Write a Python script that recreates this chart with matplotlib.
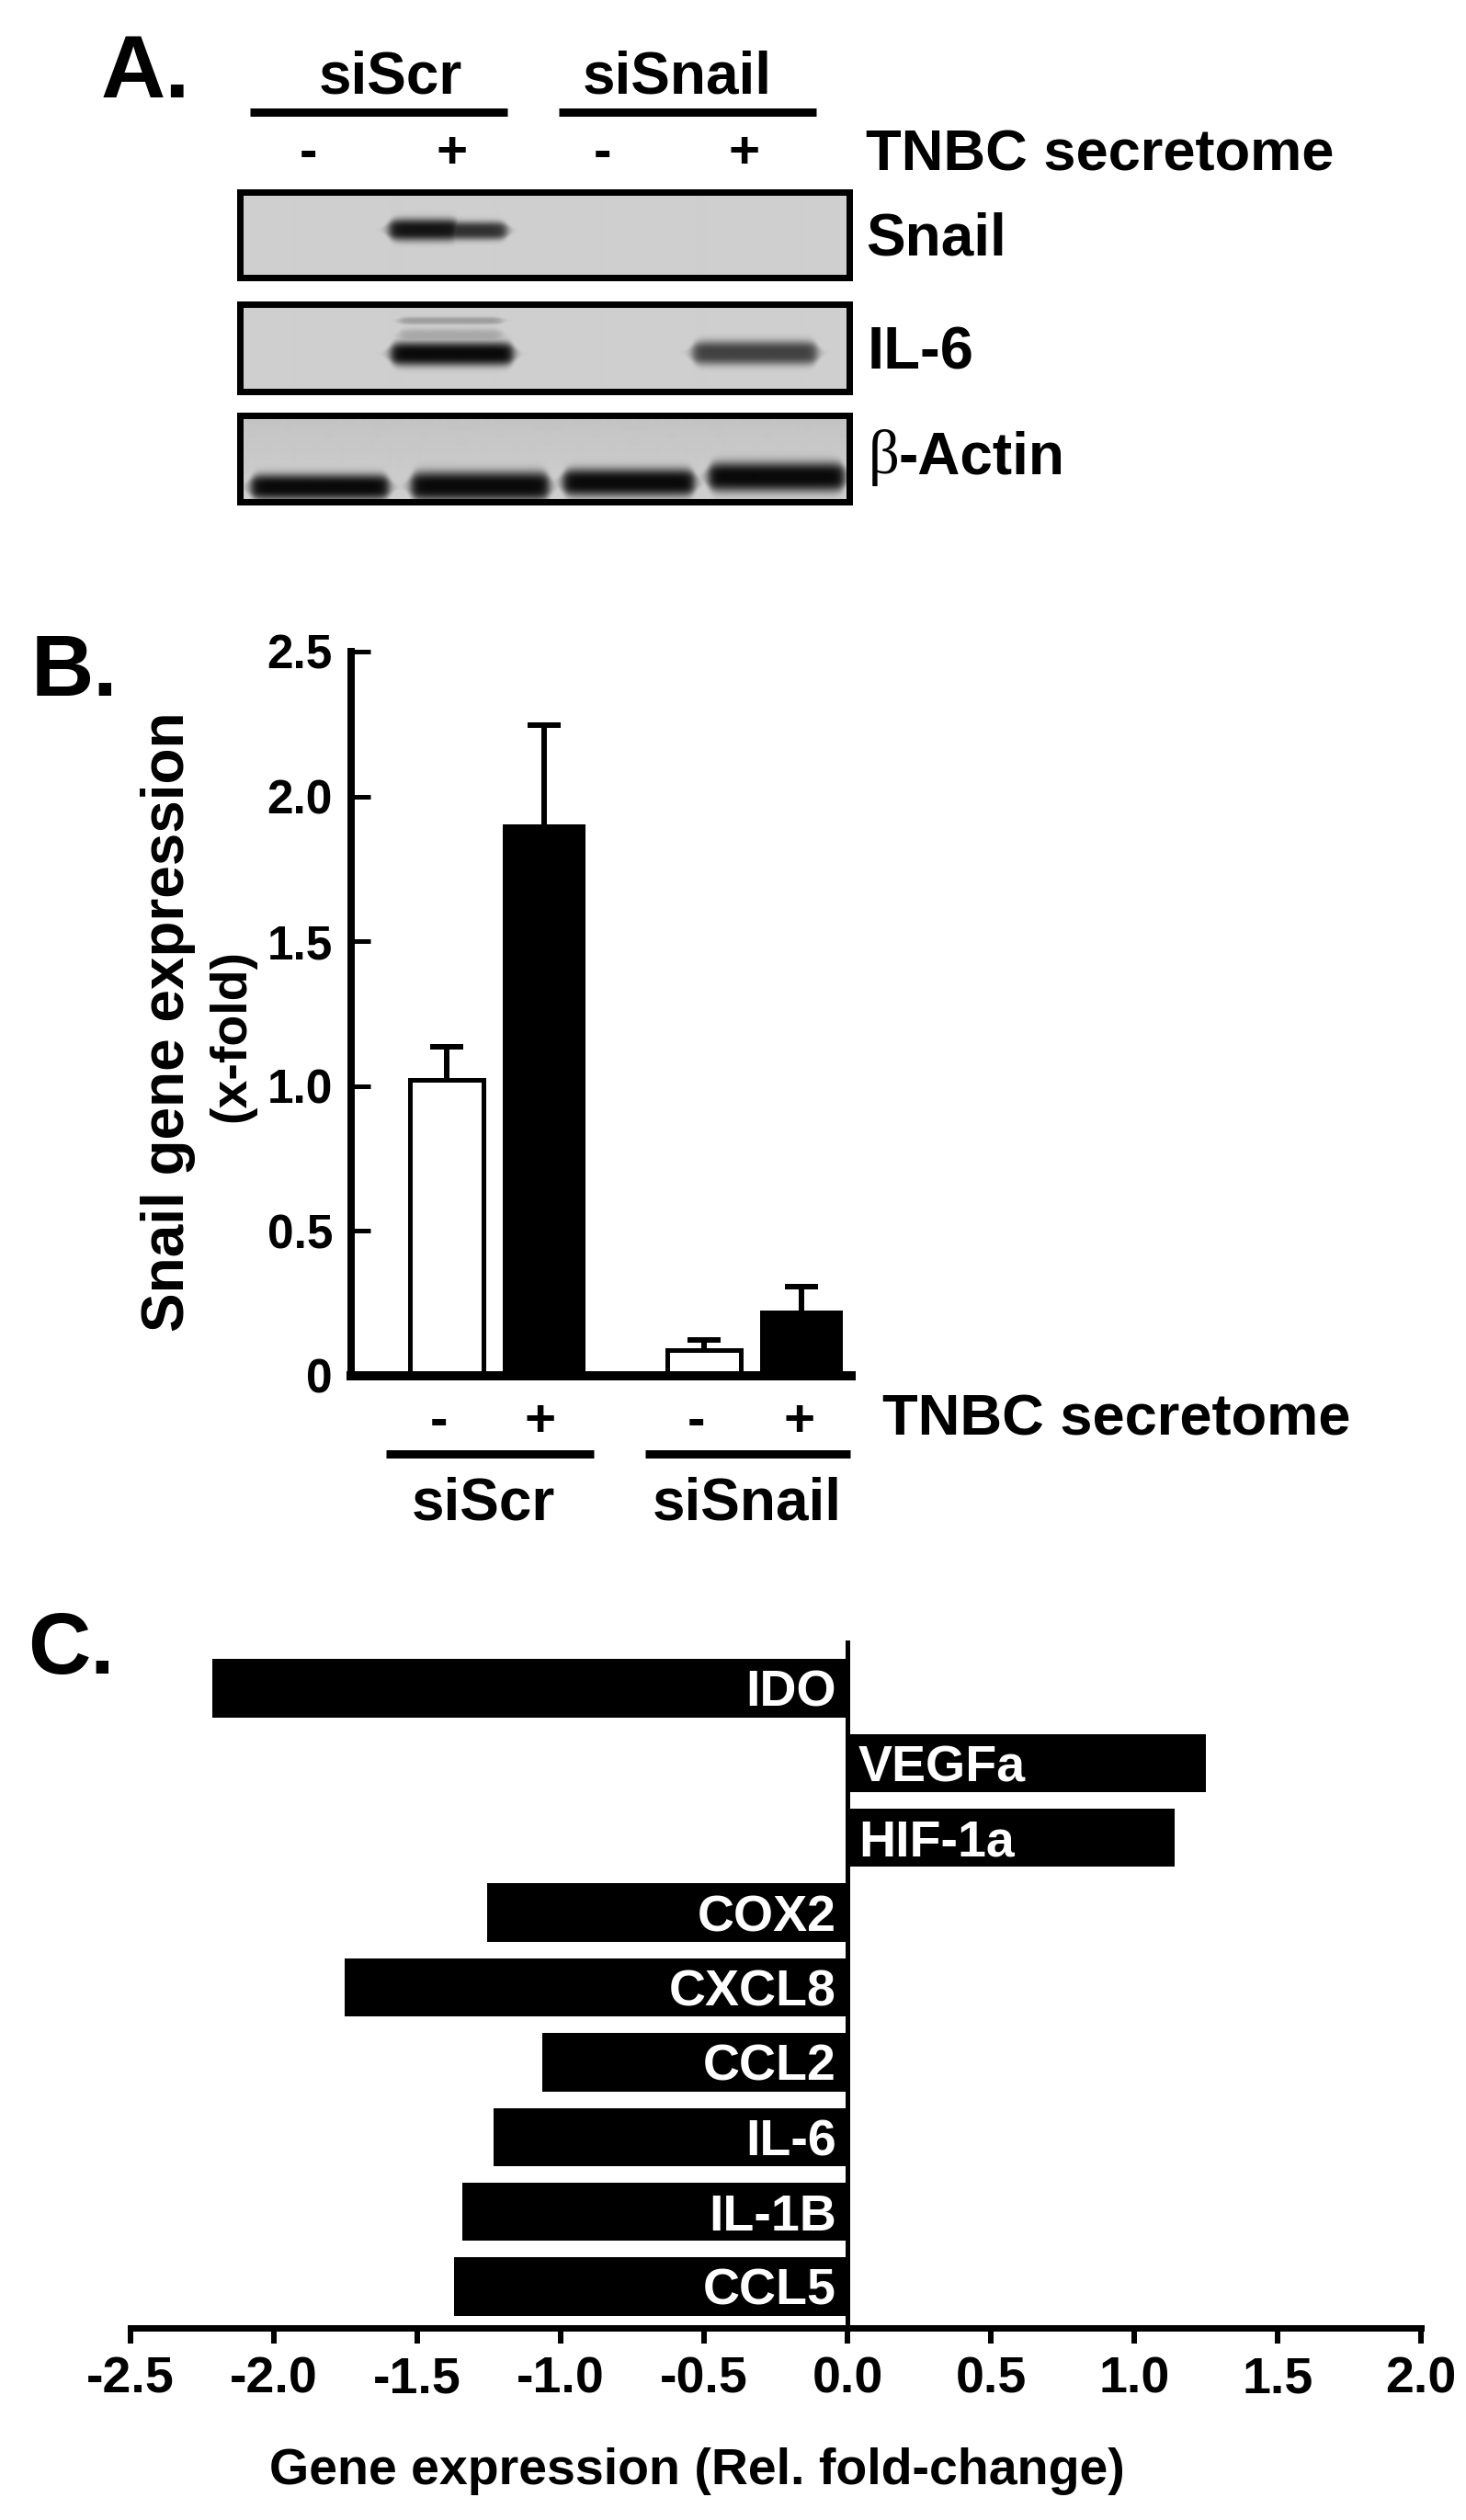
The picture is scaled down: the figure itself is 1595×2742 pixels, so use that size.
import numpy as np
import matplotlib
matplotlib.use("Agg")
import matplotlib.pyplot as plt

W, H = 1595, 2742

# panel B
b_signs = ["-", "+", "-", "+"]
b_groups = ["siScr", "siSnail"]
b_values = [1.02, 1.905, 0.09, 0.225]
b_errors = [0.115, 0.341, 0.034, 0.083]
b_fills = ["white", "black", "white", "black"]
b_yticks = [0, 0.5, 1.0, 1.5, 2.0, 2.5]
b_ytick_labels = ["0", "0.5", "1.0", "1.5", "2.0", "2.5"]

# panel C
c_genes = ["IDO", "VEGFa", "HIF-1a", "COX2", "CXCL8", "CCL2", "IL-6", "IL-1B", "CCL5"]
c_values = [-2.216, 1.25, 1.14, -1.258, -1.753, -1.063, -1.233, -1.344, -1.373]
c_xticks = [-2.5, -2.0, -1.5, -1.0, -0.5, 0.0, 0.5, 1.0, 1.5, 2.0]
c_xtick_labels = ["-2.5", "-2.0", "-1.5", "-1.0", "-0.5", "0.0", "0.5", "1.0", "1.5", "2.0"]

# panel A blots, bands are (left, right, centre y, half height, darkness) in figure pixels
snail_bands = [(423, 500, 250, 10, 0.95), (470, 551, 251, 8, 0.8)]
il6_bands = [(434, 546, 349, 2, 0.25), (434, 546, 366, 6, 0.2), (425, 558, 385, 11, 1.0),
             (753, 888, 384, 11, 0.72)]
actin_bands = [(273, 423, 530, 12, 1.0), (447, 597, 529, 14, 1.0),
               (612, 755, 525, 13, 1.0), (770, 918, 519, 14, 1.0)]

plt.rcParams["font.family"] = ["Liberation Sans", "DejaVu Sans"]
plt.rcParams["font.weight"] = "bold"


def px(v):
    # pixels to points at dpi 100
    return v * 0.72


def add_axes_px(fig, left, top, right, bottom):
    return fig.add_axes([left / W, 1 - bottom / H, (right - left) / W, (bottom - top) / H])


def put(fig, x, y, s, size, ha="left", va="baseline", **kw):
    return fig.text(x / W, 1 - y / H, s, fontsize=size, ha=ha, va=va, color=kw.pop("color", "black"), **kw)


def hline(fig, x0, x1, y, thick):
    fig.add_artist(plt.Line2D([x0 / W, x1 / W], [1 - y / H, 1 - y / H], color="black",
                              linewidth=px(thick), solid_capstyle="butt"))


def blot(fig, top, bottom, bands, shade=0.0):
    left, right = 261, 924
    xx, yy = np.meshgrid(np.arange(left, right) + 0.5, np.arange(top, bottom) + 0.5)
    dark = np.zeros(xx.shape)
    for x0, x1, yc, hh, d in bands:
        across = 0.5 * (np.tanh((xx - x0) / 6) - np.tanh((xx - x1) / 6))
        # rounded band ends
        hh_eff = (hh + 2) * np.sqrt(np.clip(across, 0.02, 1))
        down = np.exp(-(np.abs(yy - yc) / hh_eff) ** 3)
        dark = np.maximum(dark, d * across * down)
    base = 207 - shade * np.clip((bottom - yy) / (bottom - top), 0, 1)
    img = base * (1 - dark) + 10 * dark
    ax = add_axes_px(fig, left, top, right, bottom)
    ax.imshow(img, cmap="gray", vmin=0, vmax=255, aspect="auto", interpolation="bilinear")
    ax.set_xticks([])
    ax.set_yticks([])
    for sp in ax.spines.values():
        sp.set_linewidth(px(7))
    return ax


fig = plt.figure(figsize=(W / 100, H / 100), dpi=100, facecolor="white")

# ---- A ----
put(fig, 110, 106, "A.", 70)
put(fig, 425, 102, "siScr", 46, ha="center")
put(fig, 737, 102, "siSnail", 46, ha="center")
hline(fig, 272, 552, 122, 9)
hline(fig, 608, 888, 122, 9)
for x, s in zip([335, 492, 655, 810], b_signs):
    put(fig, x, 183, s, 42, ha="center")
put(fig, 942, 185, "TNBC secretome", 45.5)

blot(fig, 209, 302, snail_bands)
blot(fig, 331, 426, il6_bands)
blot(fig, 452, 546, actin_bands, shade=12)
put(fig, 942, 277, "Snail", 46)
put(fig, 944, 402, "IL-6", 47)
put(fig, 945, 515, "\u03b2", 48, family="Liberation Serif", weight="normal")
put(fig, 977, 515, "-Actin", 46)

# ---- B ----
put(fig, 34, 757, "B.", 68)
ax_b = add_axes_px(fig, 382, 709, 926, 1497)
b_x = np.arange(4) + np.array([0, 0, 0.64, 0.64])
for x, v, e, f in zip(b_x, b_values, b_errors, b_fills):
    if f == "white":
        ax_b.bar(x, v, width=0.755, color=f, edgecolor="black", linewidth=px(5), zorder=2)
    else:
        ax_b.bar(x, v, width=0.85, color=f, zorder=2)
    ax_b.vlines(x, v, v + e, color="black", linewidth=px(6), zorder=1)
    ax_b.hlines(v + e, x - 0.17, x + 0.17, color="black", linewidth=px(6), zorder=1)
ax_b.set_xlim(-0.981, 4.15)
ax_b.set_ylim(0, 2.5)
ax_b.set_yticks(b_yticks)
ax_b.set_yticklabels(b_ytick_labels, fontsize=37)
ax_b.set_xticks([])
ax_b.tick_params(axis="y", direction="in", length=px(21), width=px(5), pad=px(20))
ax_b.spines["top"].set_visible(False)
ax_b.spines["right"].set_visible(False)
ax_b.spines["left"].set_linewidth(px(8))
ax_b.spines["bottom"].set_linewidth(px(10))
ax_b.spines["left"].set_zorder(5)
ax_b.spines["bottom"].set_zorder(5)

put(fig, 183, 1112, "Snail gene expression", 46, ha="center", va="center", rotation=90)
put(fig, 252, 1127, "(x-fold)", 40, ha="center", va="center", rotation=90)
for x, s in zip([477, 588, 757, 870], b_signs):
    put(fig, x, 1563, s, 42, ha="center")
put(fig, 960, 1562, "TNBC secretome", 45.5)
hline(fig, 420, 646, 1582, 9)
hline(fig, 702, 925, 1582, 9)
put(fig, 526, 1653, b_groups[0], 46, ha="center")
put(fig, 813, 1653, b_groups[1], 46, ha="center")

# ---- C ----
put(fig, 30, 1821, "C.", 68)
ax_c = add_axes_px(fig, 142, 1787, 1546, 2533)
c_y = np.arange(len(c_genes))
ax_c.barh(c_y, c_values, height=0.78, color="black", zorder=2)
ax_c.set_xlim(-2.5, 2.0)
ax_c.set_ylim(8.553, -0.614)
ax_c.set_yticks([])
ax_c.set_xticks(c_xticks)
ax_c.set_xticklabels(c_xtick_labels, fontsize=40)
ax_c.tick_params(axis="x", direction="out", length=px(17), width=px(6), pad=px(14))
for sp in ["top", "right"]:
    ax_c.spines[sp].set_visible(False)
ax_c.spines["bottom"].set_linewidth(px(7))
ax_c.spines["left"].set_position(("data", 0))
ax_c.spines["left"].set_linewidth(px(5))
ax_c.spines["left"].set_zorder(3)
for y, v, g in zip(c_y, c_values, c_genes):
    if v < 0:
        ax_c.annotate(g, (0, y), xytext=(px(-12), 0), textcoords="offset points", color="white",
                      fontsize=40, ha="right", va="center_baseline", zorder=4)
    else:
        ax_c.annotate(g, (0, y), xytext=(px(12), 0), textcoords="offset points", color="white",
                      fontsize=40, ha="left", va="center_baseline", zorder=4)
put(fig, 758, 2703, "Gene expression (Rel. fold-change)", 40, ha="center")

fig.savefig("out.png", dpi=100, facecolor="white")
